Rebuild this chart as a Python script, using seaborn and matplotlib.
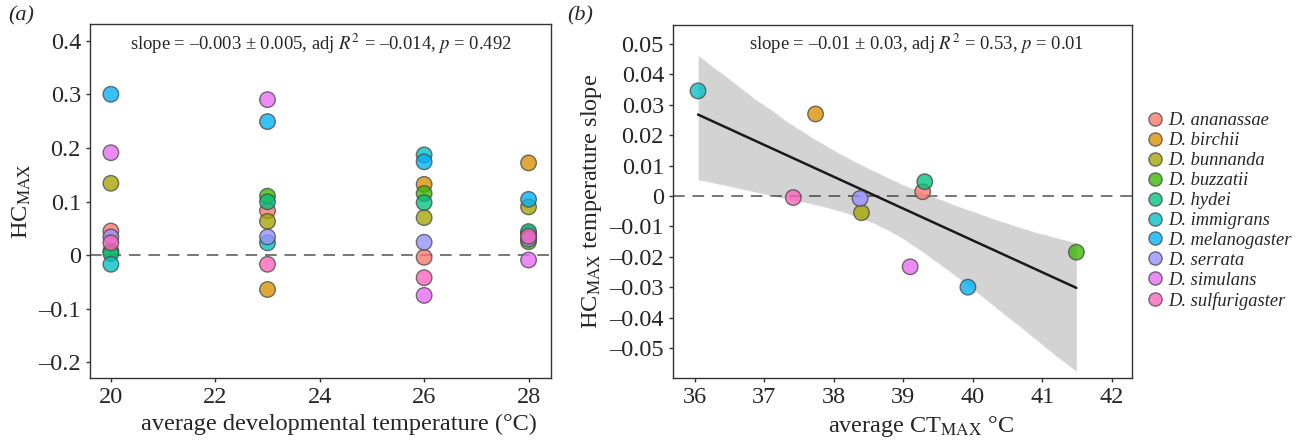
import numpy as np
import pandas as pd
import matplotlib
matplotlib.use("Agg")
import matplotlib.pyplot as plt
from matplotlib.ticker import FuncFormatter
import seaborn as sns

species = ["D. ananassae", "D. birchii", "D. bunnanda", "D. buzzatii", "D. hydei",
           "D. immigrans", "D. melanogaster", "D. serrata", "D. simulans", "D. sulfurigaster"]
colors = ["#F8766D", "#D89000", "#A3A500", "#39B600", "#00BF7D",
          "#00BFC4", "#00B0F6", "#9590FF", "#E76BF3", "#FF62BC"]

# panel (a): HCmax at each developmental temperature
dev_temps = [20, 23, 26, 28]
hc_ananassae = [0.045, 0.083, -0.004, 0.040]
hc_birchii = [np.nan, -0.064, 0.132, 0.172]
hc_bunnanda = [0.134, 0.063, 0.070, 0.090]
hc_buzzatii = [0.008, 0.110, 0.115, 0.025]
hc_hydei = [0.003, 0.0995, 0.098, 0.044]
hc_immigrans = [-0.017, 0.023, 0.187, np.nan]
hc_melanogaster = [0.300, 0.249, 0.174, 0.104]
hc_serrata = [0.034, 0.034, 0.024, 0.030]
hc_simulans = [0.191, 0.290, -0.075, -0.009]
hc_sulfurigaster = [0.023, -0.017, -0.042, 0.035]

# panel (b): HCmax temperature slope vs average CTmax
ctmax = [39.28, 37.74, 38.40, 41.49, 39.31, 36.05, 39.93, 38.38, 39.10, 37.42]
hc_slope = [0.0014, 0.0270, -0.0055, -0.0185, 0.0047, 0.0346, -0.0300, -0.0008, -0.0233, -0.0005]

hc_table = [hc_ananassae, hc_birchii, hc_bunnanda, hc_buzzatii, hc_hydei,
            hc_immigrans, hc_melanogaster, hc_serrata, hc_simulans, hc_sulfurigaster]
rows = []
for sp, vals in zip(species, hc_table):
    for t, v in zip(dev_temps, vals):
        rows.append({"species": sp, "temp": t, "hc": v})
df_a = pd.DataFrame(rows).dropna()
df_b = pd.DataFrame({"species": species, "ctmax": ctmax, "slope": hc_slope})
pal = dict(zip(species, colors))

sns.set_theme(style="ticks")
plt.rcParams["font.family"] = ["Liberation Serif", "DejaVu Serif"]
plt.rcParams["mathtext.fontset"] = "stix"
plt.rcParams["axes.edgecolor"] = "#333333"
plt.rcParams["axes.linewidth"] = 1.0
plt.rcParams["xtick.major.size"] = 3
plt.rcParams["ytick.major.size"] = 3

def fmt(v, pos):
    if abs(v) < 1e-9:
        return "0"
    return f"{v:g}".replace("-", "\u2013")

fig = plt.figure(figsize=(13.06, 4.46), dpi=100)
ax1 = fig.add_axes([0.0689, 0.1525, 0.353, 0.7937])
ax2 = fig.add_axes([0.5153, 0.1525, 0.3515, 0.7915])

mk = dict(s=125, edgecolor="#4a4a4a", linewidth=1.0, alpha=0.78, zorder=3)

# (a)
ax1.axhline(0, color="#777777", lw=1.4, ls=(0, (6, 4)), zorder=1)
sns.scatterplot(data=df_a, x="temp", y="hc", hue="species", palette=pal,
                hue_order=species, ax=ax1, legend=False, **mk)
ax1.set_xlim(19.6, 28.43)
ax1.set_ylim(-0.229, 0.431)
ax1.set_xticks([20, 22, 24, 26, 28])
ax1.set_yticks([-0.2, -0.1, 0, 0.1, 0.2, 0.3, 0.4])
ax1.yaxis.set_major_formatter(FuncFormatter(fmt))
ax1.set_xlabel("average developmental temperature (°C)", fontsize=17.5, x=0.54)
ax1.set_ylabel(r"HC$_{\mathrm{MAX}}$", fontsize=17.5)
ax1.text(0.5, 0.943, "slope = \u20130.003 \u00b1 0.005, adj $R^2$ = \u20130.014, $p$ = 0.492",
         transform=ax1.transAxes, ha="center", va="center", fontsize=13.4)

# (b)
ax2.axhline(0, color="#777777", lw=1.4, ls=(0, (6, 4)), zorder=1)
sns.regplot(data=df_b, x="ctmax", y="slope", scatter=False, ci=95, n_boot=4000, seed=1,
            color="#1a1a1a", line_kws={"lw": 1.8, "zorder": 2}, ax=ax2)
for c in ax2.collections:
    c.set_alpha(0.19)
sns.scatterplot(data=df_b, x="ctmax", y="slope", hue="species", palette=pal,
                hue_order=species, ax=ax2, **mk)
ax2.set_xlim(35.69, 42.29)
ax2.set_ylim(-0.0599, 0.0563)
ax2.set_xticks([36, 37, 38, 39, 40, 41, 42])
ax2.set_yticks([-0.05, -0.04, -0.03, -0.02, -0.01, 0, 0.01, 0.02, 0.03, 0.04, 0.05])
ax2.yaxis.set_major_formatter(FuncFormatter(fmt))
ax2.set_xlabel(r"average CT$_{\mathrm{MAX}}$ °C", fontsize=17.5, x=0.54)
ax2.set_ylabel(r"HC$_{\mathrm{MAX}}$ temperature slope", fontsize=17.5)
ax2.text(0.53, 0.947, "slope = \u20130.01 \u00b1 0.03, adj $R^2$ = 0.53, $p$ = 0.01",
         transform=ax2.transAxes, ha="center", va="center", fontsize=13.4)

for ax in (ax1, ax2):
    ax.tick_params(labelsize=17.5, color="#333333", width=1.0)

handles, labels = ax2.get_legend_handles_labels()
leg = ax2.legend(handles, labels, loc="upper left", bbox_to_anchor=(0.99, 0.80),
                 frameon=False, prop={"style": "italic", "size": 13.3},
                 labelspacing=0.16, handletextpad=0.1, handlelength=1.2, markerscale=0.85)

fig.text(0.006, 0.955, "(a)", fontsize=16, style="italic")
fig.text(0.434, 0.955, "(b)", fontsize=16, style="italic")

fig.savefig("out.png", dpi=100)
